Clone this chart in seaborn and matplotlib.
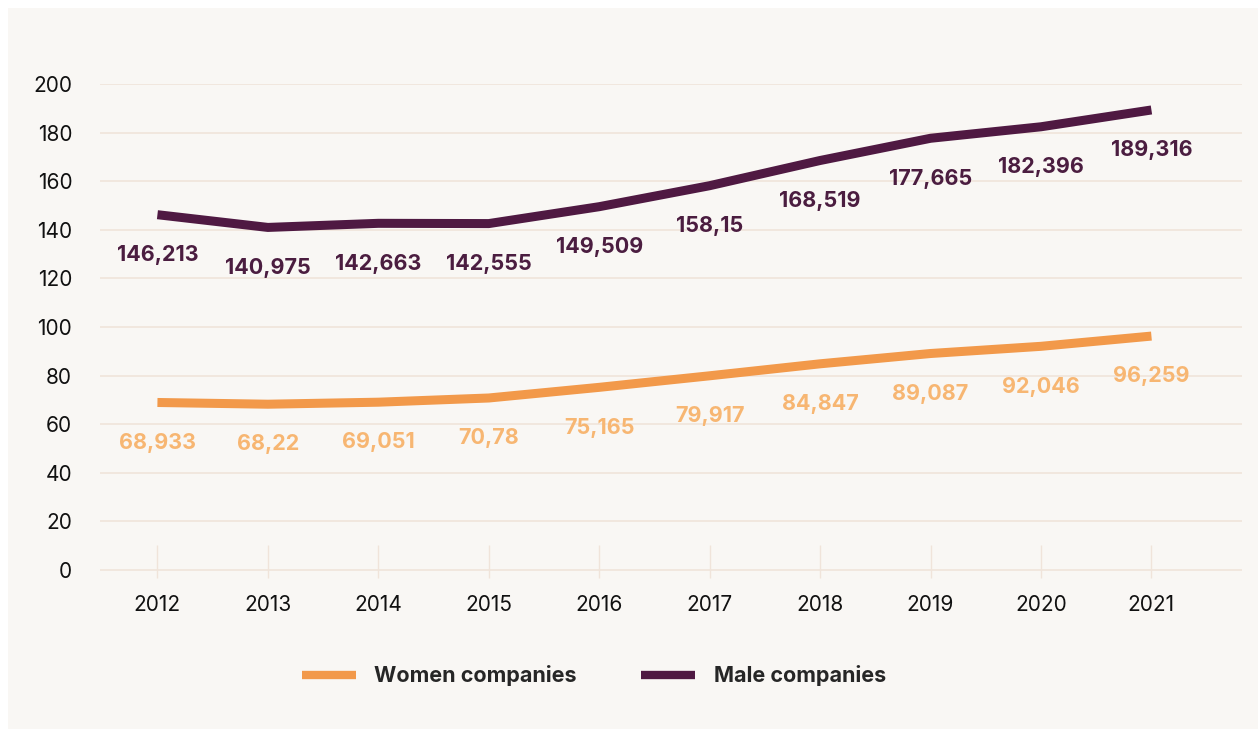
import pandas as pd
import seaborn as sns
import matplotlib.pyplot as plt
from matplotlib.patches import Rectangle

years = [2012, 2013, 2014, 2015, 2016, 2017, 2018, 2019, 2020, 2021]
women = [68.933, 68.22, 69.051, 70.78, 75.165, 79.917, 84.847, 89.087, 92.046, 96.259]
male = [146.213, 140.975, 142.663, 142.555, 149.509, 158.15, 168.519, 177.665, 182.396, 189.316]
series_names = ["Women companies", "Male companies"]
line_colors = ["#f2994a", "#4f1942"]
label_colors = ["#f7b672", "#4b1d40"]
yticks = [0, 20, 40, 60, 80, 100, 120, 140, 160, 180, 200]

df = pd.DataFrame({
    "year": years * 2,
    "value": women + male,
    "series": [series_names[0]] * len(years) + [series_names[1]] * len(years),
})

bg = "#f9f7f4"
grid = "#f0e4da"

sns.set_theme(style="white")
plt.rcParams["font.family"] = ["Inter", "DejaVu Sans"]

fig = plt.figure(figsize=(12.58, 7.29), dpi=100, facecolor="white")
fig.patches.append(Rectangle((8 / 1258, 0), 1, 1 - 8 / 729, transform=fig.transFigure,
                             facecolor=bg, edgecolor="none", zorder=-10))
ax = fig.add_axes([100 / 1258, 1 - 578 / 729, 1142 / 1258, (578 - 84) / 729])
ax.set_facecolor(bg)

sns.lineplot(data=df, x="year", y="value", hue="series", palette=line_colors,
             linewidth=6.5, ax=ax, legend=False, solid_capstyle="butt")

# value labels below the points, decimal comma as in the source
for vals, col in zip([women, male], label_colors):
    for x, v in zip(years, vals):
        ax.annotate(f"{v:g}".replace(".", ","), (x, v), xytext=(0, -29),
                    textcoords="offset points", ha="center", va="center",
                    fontsize=15.5, fontweight="bold", color=col)

ax.set_xlim(2011.48, 2021.82)
ax.set_ylim(-3.3, 200)
ax.set_yticks(yticks)
ax.set_xticks(years)
ax.set_xticklabels([str(y) for y in years])
for y in yticks:
    ax.axhline(y, color=grid, linewidth=1.2, zorder=0)
ax.tick_params(axis="x", bottom=True, direction="in", length=24, width=1, color=grid,
               pad=12, labelsize=15, labelcolor="#111111")
ax.tick_params(axis="y", left=False, length=0, pad=20, labelsize=15, labelcolor="#111111")
ax.set_xlabel("")
ax.set_ylabel("")
sns.despine(ax=ax, left=True, bottom=True)

handles = [plt.Line2D([], [], color=c, linewidth=6, solid_capstyle="butt") for c in line_colors]
fig.legend(handles, series_names, loc="center", bbox_to_anchor=(594 / 1258, 1 - 676 / 729),
           ncol=2, frameon=False, handlelength=2.5, handletextpad=0.85, columnspacing=3.0,
           prop={"weight": "bold", "size": 15.5})

fig.savefig("out.png", dpi=100, facecolor=fig.get_facecolor())
